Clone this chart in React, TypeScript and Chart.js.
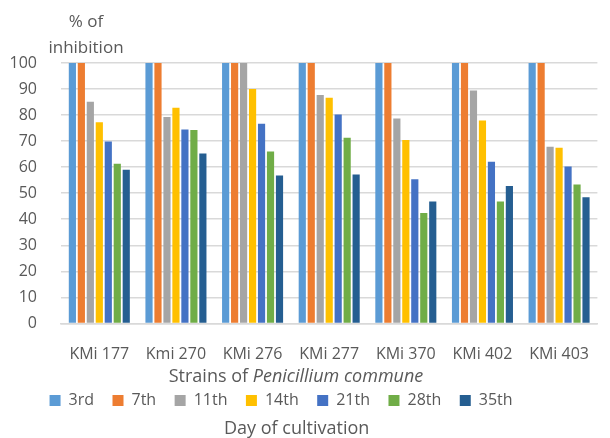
import React, { useEffect, useRef } from "react";
import { Chart, registerables } from "chart.js";

Chart.register(...registerables);

const categories = ["KMi 177", "Kmi 270", "KMi 276", "KMi 277", "KMi 370", "KMi 402", "KMi 403"];
const seriesNames = ["3rd", "7th", "11th", "14th", "21th", "28th", "35th"];
const seriesColors = ["#5B9BD5", "#ED7D31", "#A5A5A5", "#FFC000", "#4472C4", "#70AD47", "#255E91"];
const day3 = [100, 100, 100, 100, 100, 100, 100];
const day7 = [100, 100, 100, 100, 100, 100, 100];
const day11 = [85.1, 79.3, 100, 87.7, 78.7, 89.4, 67.8];
const day14 = [77.2, 82.8, 90.0, 86.7, 70.4, 77.9, 67.5];
const day21 = [69.9, 74.5, 76.7, 80.2, 55.4, 62.1, 60.3];
const day28 = [61.3, 74.3, 66.0, 71.3, 42.4, 46.8, 53.3];
const day35 = [59.0, 65.2, 56.8, 57.2, 46.8, 52.8, 48.4];
const seriesValues = [day3, day7, day11, day14, day21, day28, day35];

const yTitleLines = ["% of", "inhibition"];
const xTitleNormal = "Strains of ";
const xTitleItalic = "Penicillium commune";
const legendTitle = "Day of cultivation";

const FONT = "'Open Sans', sans-serif";
const TEXT = "#595959";

export default function App() {
  const ref = useRef<HTMLCanvasElement | null>(null);
  useEffect(() => {
    document.body.style.margin = "0";
    const canvas = ref.current;
    if (!canvas) return;
    const titlesPlugin = {
      id: "customTitles",
      afterDraw(chart: any) {
        const ctx = chart.ctx;
        ctx.save();
        ctx.fillStyle = TEXT;
        ctx.textBaseline = "middle";
        ctx.textAlign = "center";
        ctx.font = `17px ${FONT}`;
        ctx.fillText(yTitleLines[0], 86, 22);
        ctx.fillText(yTitleLines[1], 86, 48);
        ctx.font = `18px ${FONT}`;
        const w1 = ctx.measureText(xTitleNormal).width;
        ctx.font = `italic 18px ${FONT}`;
        const w2 = ctx.measureText(xTitleItalic).width;
        const start = 296 - (w1 + w2) / 2;
        const y = chart.scales.x.top + 53;
        ctx.textAlign = "left";
        ctx.font = `18px ${FONT}`;
        ctx.fillText(xTitleNormal, start, y);
        ctx.font = `italic 18px ${FONT}`;
        ctx.fillText(xTitleItalic, start + w1, y);
        ctx.restore();
      },
    };
    const chart = new Chart(canvas, {
      type: "bar",
      data: {
        labels: categories,
        datasets: seriesNames.map((name, i) => ({
          label: name,
          data: seriesValues[i],
          backgroundColor: seriesColors[i],
          borderWidth: 0,
          barPercentage: 0.8,
          categoryPercentage: 0.82,
        })),
      },
      options: {
        animation: false,
        responsive: false,
        maintainAspectRatio: false,
        layout: { padding: { top: 63, left: 0, right: -2, bottom: -2 } },
        plugins: {
          tooltip: { enabled: false },
          legend: {
            position: "bottom",
            labels: {
              boxWidth: 11,
              boxHeight: 11,
              padding: 6,
              color: TEXT,
              font: { family: FONT, size: 16 },
              generateLabels(chart: any) {
                const items = Chart.defaults.plugins.legend.labels.generateLabels(chart);
                return items.map((it: any, i: number) => ({
                  ...it,
                  text: it.text + (i === items.length - 1 ? "\u00A0".repeat(12) : "\u00A0\u00A0\u00A0"),
                }));
              },
            },
          },
          title: {
            display: true,
            position: "bottom",
            text: legendTitle + "\u00A0\u00A0\u00A0\u00A0",
            color: TEXT,
            font: { family: FONT, size: 18, weight: "normal" },
            padding: { top: 0, bottom: 0 },
          },
        },
        scales: {
          x: {
            grid: { display: false, drawTicks: false },
            border: { display: true, color: "#D9D9D9", width: 1.5 },
            ticks: { color: TEXT, font: { family: FONT, size: 16 }, padding: 21, maxRotation: 0, autoSkip: false },
            afterFit(scale: any) {
              scale.height = 63;
            },
          },
          y: {
            min: 0,
            max: 100,
            ticks: { stepSize: 10, color: TEXT, font: { family: FONT, size: 16 }, padding: 24 },
            grid: { color: "#D9D9D9", lineWidth: 1.5, drawTicks: false },
            border: { display: false },
            afterFit(scale: any) {
              scale.width = 61;
            },
          },
        },
      },
      plugins: [titlesPlugin],
    });
    return () => chart.destroy();
  }, []);
  return (
    <div style={{ width: 610, height: 438 }}>
      <canvas ref={ref} width={610} height={438} style={{ display: "block" }} />
    </div>
  );
}
